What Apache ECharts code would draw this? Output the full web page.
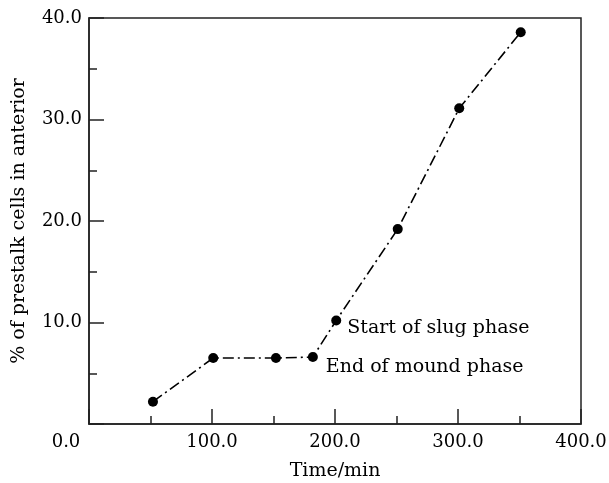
<!DOCTYPE html>
<html><head><meta charset="utf-8">
<script src="https://cdn.jsdelivr.net/npm/echarts@6/dist/echarts.min.js"></script>
<style>html,body{margin:0;padding:0;background:#fff}#c{width:609px;height:483px}</style>
</head><body><div id="c"></div>
<script>
const timeMin = [52, 101, 152, 182, 201, 251, 301, 351];
const pctPrestalk = [2.2, 6.5, 6.5, 6.6, 10.2, 19.2, 31.1, 38.6];
const annotationIndex = [4, 3];
const annotationText = ['Start of slug phase', 'End of mound phase'];
const xTitle = 'Time/min';
const yTitle = '% of prestalk cells in anterior';

const font = 'DejaVu Serif';
const labelPlace = {4: {distance: 6, offset: [0, 8]}, 3: {distance: 8, offset: [0, 10]}};
const data = timeMin.map((t, i) => {
  const d = {value: [t, pctPrestalk[i]]};
  const k = annotationIndex.indexOf(i);
  if (k >= 0) {
    d.label = Object.assign({show: true, formatter: annotationText[k], position: 'right',
      color: '#000', fontFamily: font, fontSize: 19}, labelPlace[i]);
  }
  return d;
});
const chart = echarts.init(document.getElementById('c'));
chart.setOption({
  animation: false,
  grid: {left: 89, right: 28, top: 18, bottom: 59, containLabel: false, outerBoundsMode: 'none',
    show: true, borderColor: '#222', borderWidth: 1.5, backgroundColor: 'transparent'},
  xAxis: {
    type: 'value', min: 0, max: 400, interval: 100,
    name: xTitle, nameLocation: 'middle', nameGap: 38,
    nameTextStyle: {fontFamily: font, fontSize: 19, color: '#000'},
    axisLine: {lineStyle: {color: '#222', width: 1.5}},
    axisTick: {inside: true, length: 15, lineStyle: {color: '#222', width: 1.5}},
    minorTick: {show: true, splitNumber: 2, length: 8, lineStyle: {color: '#222', width: 1.5}},
    splitLine: {show: false},
    axisLabel: {fontFamily: font, fontSize: 18, color: '#000', margin: 9,
      formatter: v => v === 0 ? '{z|0.0}' : v.toFixed(1),
      rich: {z: {fontFamily: font, fontSize: 18, color: '#000', padding: [0, 46, 0, 0]}}}
  },
  yAxis: {
    type: 'value', min: 0, max: 40, interval: 10,
    name: yTitle, nameLocation: 'middle', nameGap: 60,
    nameTextStyle: {fontFamily: font, fontSize: 19, color: '#000'},
    axisLine: {lineStyle: {color: '#222', width: 1.5}},
    axisTick: {inside: true, length: 15, lineStyle: {color: '#222', width: 1.5}},
    minorTick: {show: true, splitNumber: 2, length: 8, lineStyle: {color: '#222', width: 1.5}},
    splitLine: {show: false},
    axisLabel: {fontFamily: font, fontSize: 18, color: '#000', margin: 7,
      formatter: v => v === 0 ? '' : v.toFixed(1)}
  },
  series: [{
    type: 'line', data: data,
    symbol: 'circle', symbolSize: 10,
    itemStyle: {color: '#000'},
    lineStyle: {color: '#000', width: 1.6, type: [11, 4, 2, 4]}
  }]
});
</script></body></html>
